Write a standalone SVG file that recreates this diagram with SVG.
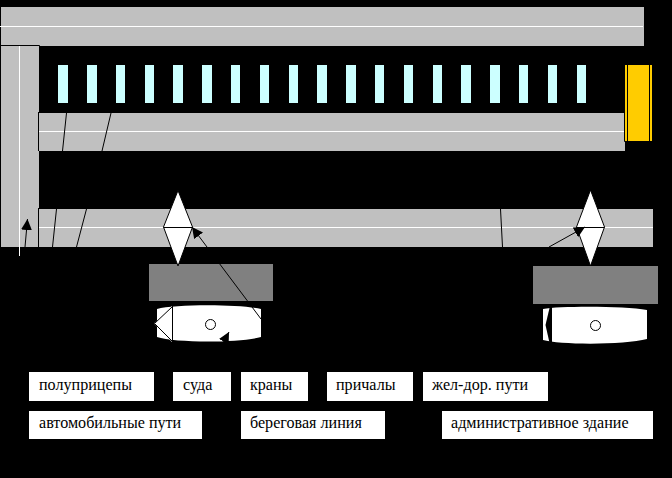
<svg xmlns="http://www.w3.org/2000/svg" width="672" height="478" viewBox="0 0 672 478">
<style>
.road{fill:#c0c0c0}
.wl{stroke:#fff;stroke-width:1;fill:none}
.bl{stroke:#000;stroke-width:1;fill:none}
.bar{fill:#ccffff}
.dock{fill:#808080}
.ship{fill:#fff}
.crane{fill:#fff;stroke:#000;stroke-width:1}
.lab{fill:#fff}
text{font-family:"Liberation Serif",serif;font-size:16.1px;fill:#000}
</style>
<defs>
<marker id="ah" markerUnits="userSpaceOnUse" markerWidth="13" markerHeight="13" refX="11" refY="5.500" orient="auto"><path d="M0 0L11 5.500L0 11z" fill="#000"/></marker>
</defs>
<rect width="672" height="478" fill="#000"/>
<g id="road-top"><rect class="road" x="1" y="7" width="643" height="39"/><path class="wl" d="M0 26.500H643"/></g>
<g id="road-left"><rect class="road" x="1" y="46" width="38" height="201"/><path class="wl" d="M19.500 45V256"/><path class="bl" d="M0 45.500H39.500V46"/></g>
<g id="road-mid"><rect class="road" x="39" y="113" width="586" height="38"/><path class="wl" d="M39 131.500H625"/><path class="bl" d="M38.500 112V151M66.500 113L62.500 151M111 113L102 151"/></g>
<g id="road-low"><rect class="road" x="39" y="209" width="614" height="38"/><path class="wl" d="M38 227.500H653"/><path class="bl" d="M38.500 208V247M56.500 209L52.500 247M86.500 209L76.500 247M500.500 209L502.500 247"/></g>
<g id="berths" class="bar">
<rect x="58" y="65" width="10" height="38"/><rect x="87" y="65" width="10" height="38"/><rect x="116" y="65" width="9" height="38"/><rect x="145" y="65" width="9" height="38"/><rect x="173" y="65" width="10" height="38"/><rect x="202" y="65" width="10" height="38"/><rect x="231" y="65" width="9" height="38"/><rect x="260" y="65" width="9" height="38"/><rect x="289" y="65" width="9" height="38"/><rect x="317" y="65" width="10" height="38"/><rect x="346" y="65" width="10" height="38"/><rect x="375" y="65" width="9" height="38"/><rect x="404" y="65" width="9" height="38"/><rect x="433" y="65" width="9" height="38"/><rect x="461" y="65" width="10" height="38"/><rect x="490" y="65" width="10" height="38"/><rect x="519" y="65" width="9" height="38"/><rect x="548" y="65" width="9" height="38"/><rect x="577" y="65" width="9" height="38"/>
</g>
<g id="admin-building"><rect x="625" y="65" width="27" height="76" fill="#ffcc00"/><path class="bl" d="M624.500 112V141.500H652M627.500 65V141M649.500 65V141"/></g>
<g id="dock-1"><rect class="dock" x="149" y="264" width="124" height="37"/></g>
<g id="dock-2"><rect class="dock" x="533" y="266" width="125" height="38"/></g>
<g id="ship-1"><path class="ship" d="M157 309C175 304 240 304 261 309V337C240 343 175 343 157 337z"/><path d="M172 306L154 323.500L172 342z" fill="#fff"/><path class="bl" d="M172.500 306V342M172 307L154.500 323.500L172 341"/><circle cx="210.500" cy="324.500" r="5" fill="#fff" stroke="#000"/></g>
<g id="ship-2"><path class="ship" d="M543 309C560 306 625 306 647 310V339C625 345 560 345 543 340z"/><path d="M550 306H552V345H550L545.500 325z" fill="#000"/><circle cx="595.500" cy="325.500" r="5" fill="#fff" stroke="#000"/></g>
<g id="crane-1"><path class="crane" d="M178 190.500L192.500 227L178 266L163.500 227z"/><path class="bl" d="M163.500 227.500H192"/></g>
<g id="crane-2"><path class="crane" d="M590.500 190L604.500 227L590.500 266L576.500 227z"/><path class="bl" d="M576.500 227.500H604.500"/></g>
<g id="connectors">
<path class="bl" d="M25 247L27.500 219" marker-end="url(#ah)"/>
<path class="bl" d="M261 319L192 227" marker-end="url(#ah)"/>
<path class="bl" d="M549 247L585 227" marker-end="url(#ah)"/>
<path class="bl" d="M222 345L229 332" marker-end="url(#ah)"/>
<path class="bl" d="M300 372L308 381"/>
</g>
<g id="legend-1"><rect class="lab" x="29" y="372" width="125" height="29"/><text x="39" y="390">полуприцепы</text></g>
<g id="legend-2"><rect class="lab" x="173" y="372" width="58" height="29"/><text x="183" y="390">суда</text></g>
<g id="legend-3"><rect class="lab" x="241" y="372" width="67" height="29"/><text x="250" y="390">краны</text></g>
<g id="legend-4"><rect class="lab" x="327" y="372" width="86" height="29"/><text x="336" y="390">причалы</text></g>
<g id="legend-5"><rect class="lab" x="423" y="372" width="125" height="29"/><text x="432" y="390">жел-дор. пути</text></g>
<g id="legend-6"><rect class="lab" x="29" y="411" width="173" height="28"/><text x="39" y="428">автомобильные пути</text></g>
<g id="legend-7"><rect class="lab" x="241" y="411" width="144" height="28"/><text x="250" y="428">береговая линия</text></g>
<g id="legend-8"><rect class="lab" x="442" y="411" width="211" height="28"/><text x="451" y="428">административное здание</text></g>
</svg>
